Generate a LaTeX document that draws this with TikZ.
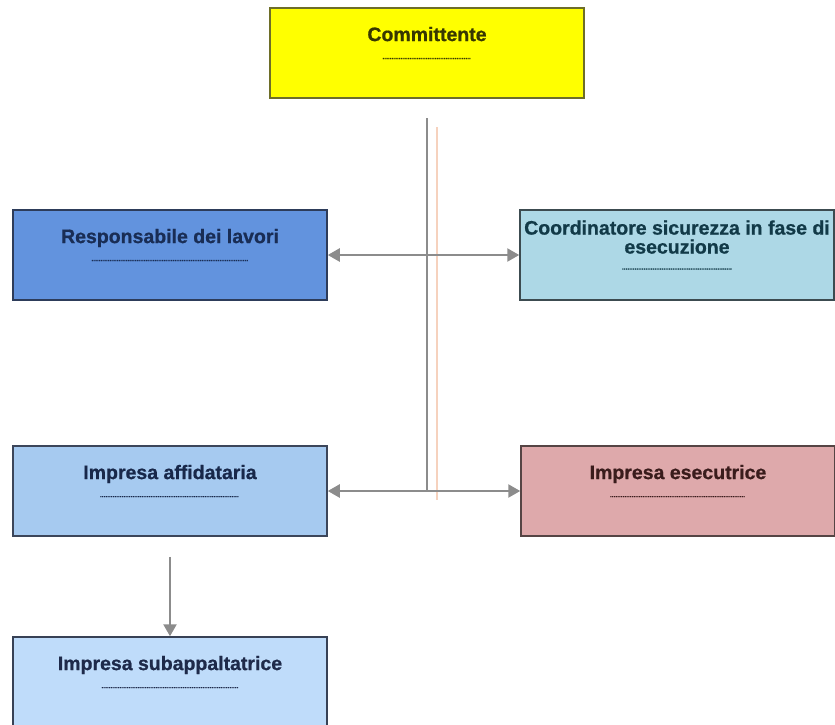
\documentclass[tikz,border=0pt]{standalone}
\usepackage{fontspec}
\setmainfont{Liberation Sans}[BoldFeatures={FakeBold=0.8}]
\usetikzlibrary{arrows.meta,positioning}
\usepackage{xcolor}

\definecolor{linkgray}{HTML}{8C8C8C}
\definecolor{shadoworange}{HTML}{F6D2BE}

% placeholder dotted line under each title
\newcommand{\dotline}[1]{\hbox to #1{\fontsize{7}{7}\selectfont\leaders\hbox to 1.8pt{\hss.\hss}\hfill}}

\begin{document}
\begin{tikzpicture}[x=1pt, y=-1pt,
    role/.style={draw, line width=1.5pt, minimum width=314pt, minimum height=90pt,
        inner sep=2pt, align=center, font=\bfseries\fontsize{19.5}{20}\selectfont},
    link/.style={draw=linkgray, line width=2.4pt},
    tip/.style={-{Triangle[length=12pt,width=13pt]}},
    echo/.style={draw=shadoworange, line width=2pt, transform canvas={xshift=10pt, yshift=-9pt}}]
    \useasboundingbox (0,0) rectangle (835,724);

    % Roles
    \node[role, fill={rgb,255:red,255;green,255;blue,0}, draw={rgb,255:red,110;green,110;blue,40}, text={rgb,255:red,55;green,55;blue,0}]
        (committente) at (427,53) {Committente\\[-2pt]\dotline{89pt}\\[0pt]};
    \node[role, fill={rgb,255:red,98;green,147;blue,222}, draw={rgb,255:red,45;green,60;blue,90}, text={rgb,255:red,25;green,45;blue,85}]
        (responsabile) at (170,255) {Responsabile dei lavori\\[-2pt]\dotline{157pt}\\[0pt]};
    \node[role, fill={rgb,255:red,173;green,216;blue,230}, draw={rgb,255:red,60;green,75;blue,80}, text={rgb,255:red,18;green,58;blue,72}, inner sep=0pt]
        (coordinatore) at (677,255) {Coordinatore sicurezza in fase di\\[-1pt]esecuzione\\[-4pt]\dotline{110pt}\\[0pt]};
    \node[role, fill={rgb,255:red,166;green,202;blue,240}, draw={rgb,255:red,60;green,70;blue,90}, text={rgb,255:red,24;green,40;blue,74}]
        (affidataria) at (170,491) {Impresa affidataria\\[-2pt]\dotline{140pt}\\[0pt]};
    \node[role, fill={rgb,255:red,222;green,169;blue,171}, draw={rgb,255:red,85;green,68;blue,68}, text={rgb,255:red,58;green,28;blue,28}]
        (esecutrice) at (678,491) {Impresa esecutrice\\[-2pt]\dotline{136pt}\\[0pt]};
    \node[role, fill={rgb,255:red,191;green,220;blue,250}, draw={rgb,255:red,55;green,65;blue,85}, text={rgb,255:red,30;green,42;blue,74}]
        (subappaltatrice) at (170,682) {Impresa subappaltatrice\\[-2pt]\dotline{137pt}\\[0pt]};

    % Branch points on the trunk
    \coordinate (trunktop) at (427,118);
    \coordinate (branchA) at (427,255);
    \coordinate (branchB) at (427,491);

    % Faint shadow of the connectors
    \draw[echo] (trunktop) -- (branchB);

    % Connectors
    \draw[link] (trunktop) -- (branchB);
    \draw[link, tip] (branchA) -- (responsabile);
    \draw[link, tip] (branchA) -- (coordinatore);
    \draw[link, tip] (branchB) -- (affidataria);
    \draw[link, tip] (branchB) -- (esecutrice);
    \draw[link, tip, shorten <=20pt] (affidataria) -- (subappaltatrice);
\end{tikzpicture}
\end{document}
